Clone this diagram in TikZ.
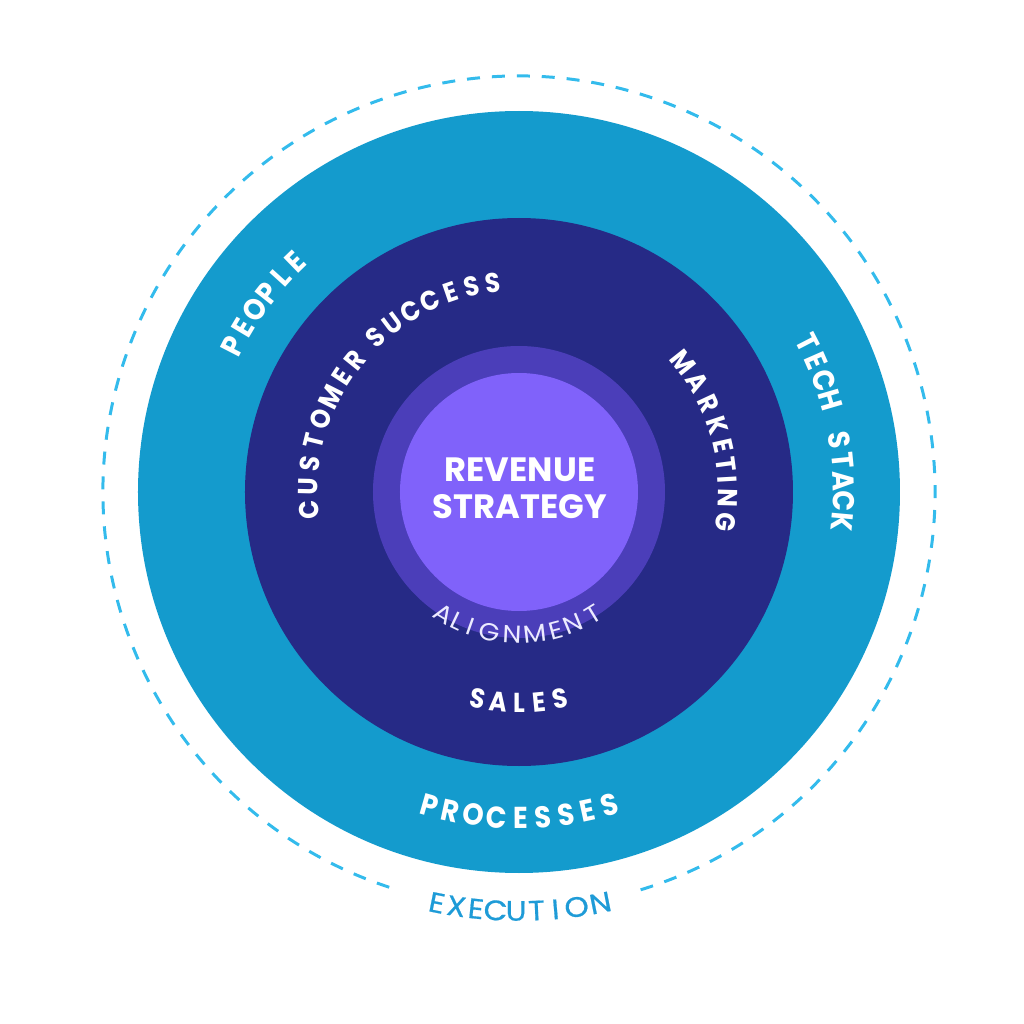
\documentclass[tikz,border=0pt]{standalone}
\usepackage{fontspec}
\setmainfont{Poppins}
\newfontfamily\narrowfont[FakeStretch=0.9]{Poppins}
\newfontfamily\widefont[FakeStretch=1.1]{Poppins}
\newfontfamily\poppinsmed[FakeBold=0.6,FakeStretch=1.1]{Poppins}
\usetikzlibrary{calc}
\definecolor{bandblue}{HTML}{149BCD}
\definecolor{navy}{HTML}{262A86}
\definecolor{ringviolet}{HTML}{4B3EB9}
\definecolor{corepurple}{HTML}{8062FA}
\definecolor{dashblue}{HTML}{33BBEC}
\definecolor{execblue}{HTML}{1E9BD7}
\definecolor{lavender}{HTML}{ECEAFF}
\tikzset{
	bandletter/.style={inner sep=0pt, text=white, font=\narrowfont\bfseries\fontsize{8.6}{10}\selectfont},
	navyletter/.style={inner sep=0pt, text=white, font=\narrowfont\bfseries\fontsize{7.8}{9}\selectfont},
	execletter/.style={inner sep=0pt, text=execblue, font=\poppinsmed\fontsize{8}{9}\selectfont},
	alignletter/.style={inner sep=0pt, text=lavender, font=\widefont\fontsize{7}{8}\selectfont},
}

\begin{document}
\begin{tikzpicture}
		\useasboundingbox (-5.19,-5.32) rectangle (5.05,4.92);
		\coordinate (O) at (0,0);

		% circles, from outside in
		\draw[dashblue,line width=0.85pt,dash pattern=on 3.7pt off 3.4pt] (287:4.16) arc (287:613:4.16);
		\fill[bandblue] (O) circle (3.81);
		\fill[navy] (O) circle (2.74);
		\fill[ringviolet] (O) circle (1.46);
		\fill[corepurple] (O) circle (1.19);

		\node[align=center,inner sep=0pt,text=white,font=\bfseries\fontsize{9.6}{10.6}\selectfont] (core) at (0.01,0.04) {REVENUE\\STRATEGY};

		% outer band
		\foreach \ch/\a [count=\i] in {P/152.9,E/149.2,O/145.4,P/141.7,L/137.9,E/134.2}
			\node[bandletter,rotate=\a-90] (people-\i) at (\a:3.21) {\ch};
		\foreach \ch/\a [count=\i] in {T/27.3,E/23.7,C/20.1,H/16.4,S/9.2,T/5.6,A/2.0,C/-1.6,K/-5.3}
			\node[bandletter,rotate=\a-90] (tech-\i) at (\a:3.25) {\ch};
		\foreach \ch/\a [count=\i] in {P/254.0,R/257.8,O/262.0,C/266.0,E/270.3,S/274.3,S/278.3,E/282.2,S/286.1}
			\node[bandletter,rotate=\a+90] (proc-\i) at (\a:3.26) {\ch};
		\foreach \ch/\a [count=\i] in {E/258.7,X/261.4,E/264.1,C/266.8,U/269.6,T/272.4,I/275.0,O/277.9,N/281.2}
			\node[execletter,rotate=\a+90] (exec-\i) at (\a:4.19) {\ch};

		% navy ring
		\foreach \ch/\a [count=\i] in {C/184.9,U/178.6,S/172.3,T/166.0,O/159.7,M/153.3,E/147.0,R/141.2,S/132.8,U/126.9,C/120.9,C/115.0,E/109.0,S/103.0,S/97.0}
			\node[navyletter,rotate=\a-90] (cs-\i) at (\a:2.11) {\ch};
		\foreach \ch/\a [count=\i] in {M/38.4,A/31.6,R/25.0,K/18.6,E/12.7,T/7.6,I/3.3,N/-1.6,G/-8.2}
			\node[navyletter,rotate=\a-90] (mkt-\i) at (\a:2.09) {\ch};
		\foreach \ch/\a [count=\i] in {S/258.8,A/264.4,L/270.0,E/275.6,S/281.2}
			\node[navyletter,rotate=\a+90] (sales-\i) at (\a:2.11) {\ch};

		% alignment ring
		\foreach \ch/\a [count=\i] in {A/238.3,L/244.5,I/250.3,G/258.1,N/267.2,M/276.5,E/284.8,N/292.4,T/301.4}
			\node[alignletter,rotate=\a+90] (align-\i) at (\a:1.43) {\ch};
\end{tikzpicture}
\end{document}
